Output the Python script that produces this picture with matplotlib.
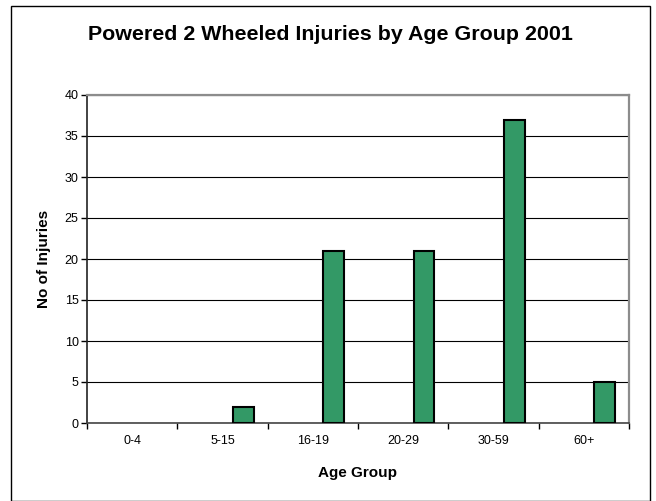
import matplotlib
matplotlib.use("Agg")
import matplotlib.pyplot as plt
from matplotlib.patches import Rectangle
import numpy as np

plt.rcParams['font.family'] = ['Liberation Sans', 'DejaVu Sans']

categories = ['0-4', '5-15', '16-19', '20-29', '30-59', '60+']
injuries = [0, 2, 21, 21, 37, 5]
y_ticks = [0, 5, 10, 15, 20, 25, 30, 35, 40]

title = 'Powered 2 Wheeled Injuries by Age Group 2001'
x_label = 'Age Group'
y_label = 'No of Injuries'

W, H = 656, 501
fig = plt.figure(figsize=(W / 100, H / 100), dpi=100)

# outer chart border
fig.patches.append(Rectangle((11 / W, 0.0), (650 - 11) / W, (H - 6) / H,
                             transform=fig.transFigure, fill=False,
                             edgecolor='black', linewidth=1.0))

left, right, top, bottom = 87, 629, 95, 423
ax = fig.add_axes([left / W, (H - bottom) / H, (right - left) / W, (bottom - top) / H])

x = np.arange(len(categories))
bw = 0.231
edges = ['black' if v > 0 else 'none' for v in injuries]
ax.bar(x + bw, injuries, width=bw, color='#339966', edgecolor=edges,
       linewidth=1.5, zorder=3)

ax.set_xlim(-0.5, len(categories) - 0.5)
ax.set_ylim(0, 40)
ax.set_yticks(y_ticks)
ax.tick_params(axis='y', labelsize=9, length=4, width=1, pad=2, direction='out')
ax.yaxis.grid(True, color='black', linewidth=0.8, zorder=0)
ax.set_axisbelow(True)

ax.set_xticks(np.arange(-0.5, len(categories)), minor=False)
ax.set_xticklabels([])
ax.set_xticks(x, minor=True)
ax.set_xticklabels(categories, minor=True)
ax.tick_params(axis='x', which='major', length=4, width=1, direction='out')
ax.tick_params(axis='x', which='minor', length=0, labelsize=9, pad=9)

for s in ['top', 'right']:
    ax.spines[s].set_color('#8c8c8c')
    ax.spines[s].set_linewidth(1.6)
ax.spines['left'].set_color('#222222')
ax.spines['bottom'].set_color('#444444')
ax.spines['left'].set_linewidth(1.2)
ax.spines['bottom'].set_linewidth(1.2)

ax.set_xlabel(x_label, fontsize=11, fontweight='bold', labelpad=13)
ax.set_ylabel(y_label, fontsize=11, fontweight='bold', labelpad=10)

fig.text(330 / W, 1 - 35 / H, title, ha='center', va='center',
         fontsize=15.4, fontweight='bold')

fig.savefig('out.png', dpi=100)
